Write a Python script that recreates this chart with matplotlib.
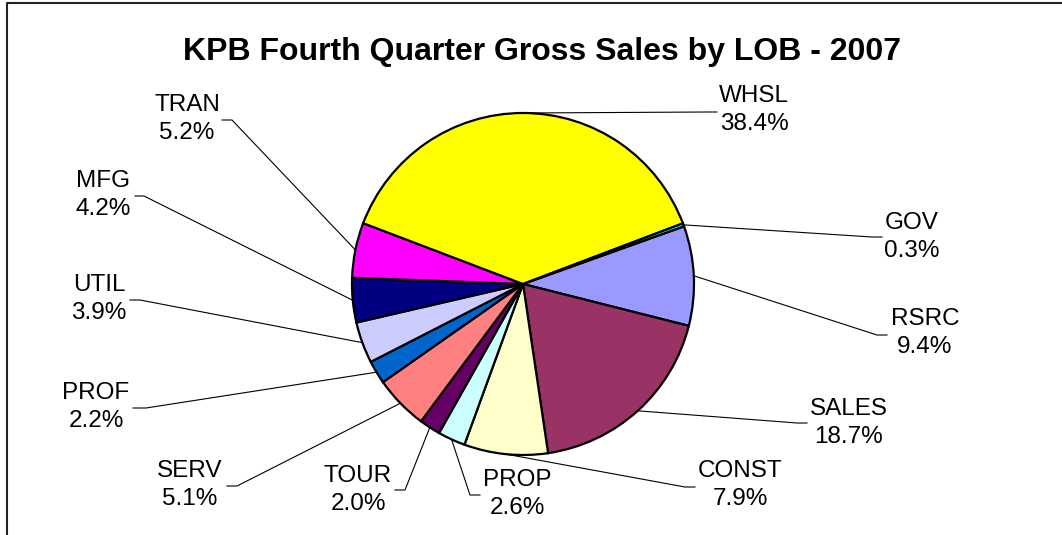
import numpy as np
import matplotlib.pyplot as plt

plt.rcParams['font.family'] = ['Liberation Sans', 'DejaVu Sans']

# data, clockwise from the GOV/RSRC boundary
labels = ['RSRC', 'SALES', 'CONST', 'PROP', 'TOUR', 'SERV', 'PROF', 'UTIL', 'MFG', 'TRAN', 'WHSL', 'GOV']
values = [9.4, 18.7, 7.9, 2.6, 2.0, 5.1, 2.2, 3.9, 4.2, 5.2, 38.4, 0.3]
colors = ['#9999FF', '#993366', '#FFFFCC', '#CCFFFF', '#660066', '#FF8080',
          '#0066CC', '#CCCCFF', '#000080', '#FF00FF', '#FFFF00', '#00FFFF']
title = 'KPB Fourth Quarter Gross Sales by LOB - 2007'

W, H = 1062, 535
# label layout in pixels (y down): text centre x, y, line attach x, elbow x, line y
label_pos = {
    'WHSL':  (754, 110, 717, 707, 112),
    'GOV':   (912, 237, 882, 872, 237),
    'RSRC':  (925, 333, 887, 877, 335),
    'SALES': (849, 423, 807, 797, 423),
    'CONST': (740, 485, 695, 685, 487),
    'PROP':  (517, 494, 480, 470, 495),
    'TOUR':  (358, 490, 395, 405, 490),
    'SERV':  (190, 485, 227, 237, 486),
    'PROF':  (96, 407, 133, 146, 408),
    'UTIL':  (99, 299, 130, 140, 300),
    'MFG':   (103, 195, 135, 144, 196),
    'TRAN':  (187, 119, 222, 232, 120),
}

cx, cy, r = 523, H - 284, 171

fig = plt.figure(figsize=(W / 100, H / 100), dpi=100)
ax = fig.add_axes([0, 0, 1, 1])
wedges, _ = ax.pie(values, colors=colors, startangle=19.7, counterclock=False,
                   center=(cx, cy), radius=r, frame=True,
                   wedgeprops=dict(edgecolor='black', linewidth=1.6))

for w, lab, val in zip(wedges, labels, values):
    mid = np.deg2rad((w.theta1 + w.theta2) / 2)
    px = cx + r * np.cos(mid)
    py = cy + r * np.sin(mid)
    tx, ty, ax_, ex, ly = label_pos[lab]
    ax.plot([ax_, ex, px], [H - ly, H - ly, py], color='black', lw=0.8)
    ax.text(tx, H - ty, '%s\n%.1f%%' % (lab, val), ha='center', va='center',
            multialignment='center', fontsize=17.5, linespacing=1.4)

ax.text(542, H - 52, title, ha='center', va='center', fontsize=23, fontweight='bold')

# chart frame (left and top edges visible)
ax.plot([6.5, 6.5, W], [0, H - 3, H - 3], color='#222222', lw=1.5)

ax.set_xlim(0, W)
ax.set_ylim(0, H)
ax.set_aspect('auto')
ax.axis('off')

plt.savefig('out.png', dpi=100)
